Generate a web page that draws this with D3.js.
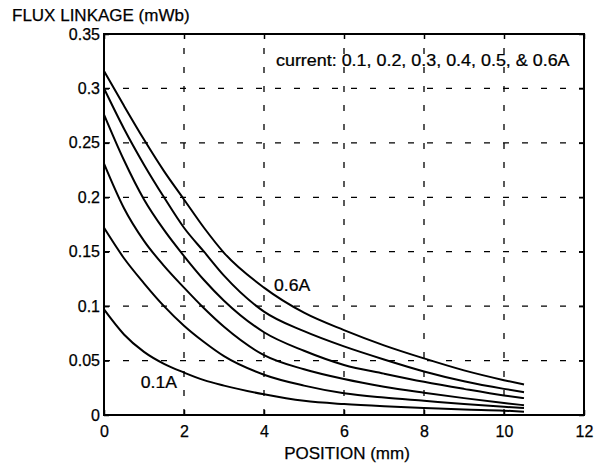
<!DOCTYPE html>
<html>
<head>
<meta charset="utf-8">
<script src="https://cdn.jsdelivr.net/npm/d3@7"></script>
<style>
  html, body { margin: 0; padding: 0; background: #fff; }
  svg { display: block; }
  text { font-family: "Liberation Sans", Arial, Helvetica, sans-serif; fill: #000; stroke: #000; stroke-width: 0.25px; }
</style>
</head>
<body>
<svg id="chart" width="595" height="467"></svg>
<script>
// Flux linkage versus plunger position for six coil currents
const positions = [0, 0.5, 1, 1.5, 2, 2.5, 3, 4, 5, 6, 7, 8, 9, 10, 10.5];
const currentLabels = ["0.1A", "0.2A", "0.3A", "0.4A", "0.5A", "0.6A"];
const flux01 = [0.097, 0.074, 0.058, 0.047, 0.039, 0.032, 0.027, 0.019, 0.013, 0.010, 0.008, 0.0065, 0.005, 0.004, 0.003];
const flux02 = [0.172, 0.144, 0.121, 0.100, 0.082, 0.067, 0.054, 0.037, 0.027, 0.020, 0.016, 0.013, 0.010, 0.0075, 0.0065];
const flux03 = [0.231, 0.190, 0.160, 0.137, 0.117, 0.098, 0.081, 0.055, 0.042, 0.033, 0.026, 0.0205, 0.0155, 0.011, 0.009];
const flux04 = [0.276, 0.234, 0.198, 0.170, 0.146, 0.124, 0.105, 0.076, 0.059, 0.046, 0.038, 0.0305, 0.024, 0.018, 0.0155];
const flux05 = [0.300, 0.263, 0.230, 0.200, 0.172, 0.150, 0.128, 0.095, 0.077, 0.063, 0.051, 0.040, 0.031, 0.024, 0.021];
const flux06 = [0.316, 0.284, 0.253, 0.224, 0.198, 0.172, 0.149, 0.117, 0.094, 0.078, 0.064, 0.052, 0.041, 0.032, 0.028];
const fluxSeries = [flux01, flux02, flux03, flux04, flux05, flux06];

const xTicks = [0, 2, 4, 6, 8, 10, 12];
const yTicks = [0, 0.05, 0.1, 0.15, 0.2, 0.25, 0.3, 0.35];
const yTickLabels = ["0", "0.05", "0.1", "0.15", "0.2", "0.25", "0.3", "0.35"];

const svg = d3.select("#chart");
const plotLeft = 104, plotRight = 584, plotTop = 34, plotBottom = 415;

const x = d3.scaleLinear().domain([0, 12]).range([plotLeft, plotRight]);
const y = d3.scaleLinear().domain([0, 0.35]).range([plotBottom, plotTop]);

svg.append("rect").attr("width", 595).attr("height", 467).attr("fill", "#fff");

// dashed grid
const grid = svg.append("g")
  .attr("stroke", "#000")
  .attr("stroke-width", 1.3)
  .attr("stroke-dasharray", "6 13");
grid.selectAll("line.v")
  .data(xTicks.slice(1, -1))
  .join("line")
  .attr("class", "v")
  .attr("x1", d => x(d)).attr("x2", d => x(d))
  .attr("y1", plotBottom).attr("y2", plotTop);
grid.selectAll("line.h")
  .data(yTicks.slice(1, -1))
  .join("line")
  .attr("class", "h")
  .attr("x1", plotLeft).attr("x2", plotRight)
  .attr("y1", d => y(d)).attr("y2", d => y(d));

// axes with inward ticks on all four sides
const tickLen = 5;
function styleAxis(g) {
  g.select(".domain").remove();
  g.selectAll(".tick line").attr("stroke", "#000").attr("stroke-width", 1.5);
  g.selectAll("text").style("font-size", "16px").attr("fill", "#000");
}
svg.append("g")
  .attr("transform", `translate(0,${plotBottom})`)
  .call(d3.axisBottom(x).tickValues(xTicks).tickFormat(d3.format("d")).tickSizeInner(-tickLen).tickSizeOuter(0).tickPadding(9))
  .call(styleAxis)
  .call(g => g.selectAll("text").attr("y", 11));
svg.append("g")
  .attr("transform", `translate(0,${plotTop})`)
  .call(d3.axisTop(x).tickValues(xTicks).tickFormat("").tickSizeInner(-tickLen).tickSizeOuter(0))
  .call(styleAxis);
svg.append("g")
  .attr("transform", `translate(${plotLeft},0)`)
  .call(d3.axisLeft(y).tickValues(yTicks).tickFormat((d, i) => yTickLabels[i]).tickSizeInner(-tickLen).tickSizeOuter(0).tickPadding(4))
  .call(styleAxis)
  .call(g => g.selectAll("text").attr("x", -4));
svg.append("g")
  .attr("transform", `translate(${plotRight},0)`)
  .call(d3.axisRight(y).tickValues(yTicks).tickFormat("").tickSizeInner(-tickLen).tickSizeOuter(0))
  .call(styleAxis);

// plot box
svg.append("rect")
  .attr("x", plotLeft).attr("y", plotTop)
  .attr("width", plotRight - plotLeft).attr("height", plotBottom - plotTop)
  .attr("fill", "none").attr("stroke", "#000").attr("stroke-width", 2);

// flux curves
const line = d3.line()
  .x((d, i) => x(positions[i]))
  .y(d => y(d))
  .curve(d3.curveMonotoneX);
svg.append("g")
  .selectAll("path")
  .data(fluxSeries)
  .join("path")
  .attr("d", line)
  .attr("fill", "none")
  .attr("stroke", "#000")
  .attr("stroke-width", 2)
  .attr("stroke-linejoin", "round");

// annotations
svg.append("text")
  .attr("x", 12).attr("y", 21)
  .style("font-size", "17px")
  .text("FLUX LINKAGE (mWb)");
svg.append("text")
  .attr("x", x(6) + 3).attr("y", 459)
  .attr("text-anchor", "middle")
  .style("font-size", "17px")
  .text("POSITION (mm)");
svg.append("text")
  .attr("transform", `translate(${x(4.3)},${y(0.3206)}) scale(1.12,1)`)
  .style("font-size", "16px")
  .text("current: 0.1, 0.2, 0.3, 0.4, 0.5, & 0.6A");
svg.append("text")
  .attr("transform", `translate(${x(4.25)},${y(0.114)}) scale(1.1,1)`)
  .style("font-size", "16px")
  .text(currentLabels[5]);
svg.append("text")
  .attr("transform", `translate(${x(0.92)},${y(0.0245)}) scale(1.1,1)`)
  .style("font-size", "16px")
  .text(currentLabels[0]);
</script>
</body>
</html>
